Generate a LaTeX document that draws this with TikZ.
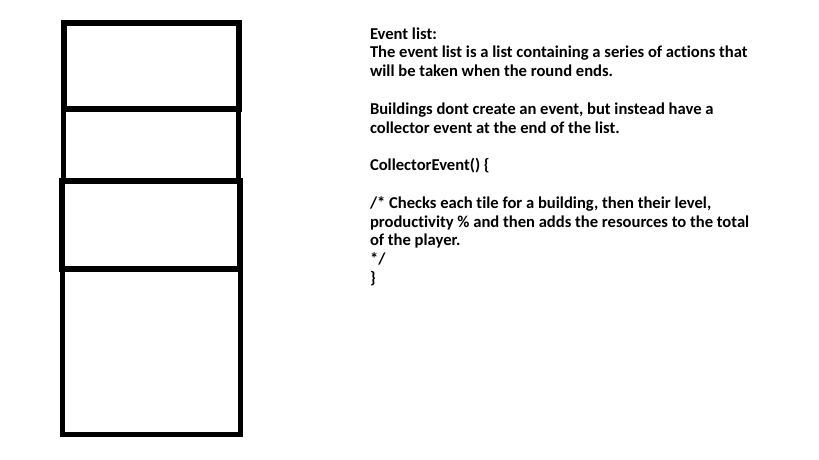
\documentclass[tikz,border=0pt]{standalone}
\usepackage{fontspec}
\setmainfont{Carlito}[Ligatures=CommonOff]
\tikzset{slot/.style={draw=black,line width=5pt}}

\begin{document}
\begin{tikzpicture}[x=1pt,y=-1pt]
	\useasboundingbox[fill=white] (0,0) rectangle (819,460);
	\draw[slot,line width=6pt] (64,23.5) rectangle (239,108.5);
	\draw[slot] (63,108.5) rectangle (238,180.5);
	\draw[slot,line width=6pt] (61.5,180.5) rectangle (239.5,268.5);
	\draw[slot] (62.5,268.5) rectangle (240.5,434.5);
	\node[anchor=base west,inner sep=0,outer sep=0,align=left,font=\fontsize{16.6}{18.8}\selectfont\bfseries] (events) at (370,283.5) {Event list:\\
		The event list is a list containing a series of actions that\\
		will be taken when the round ends.\\
		\strut\\
		Buildings dont create an event, but instead have a\\
		collector event at the end of the list.\\
		\strut\\
		CollectorEvent() \{\\
		\strut\\
		/* Checks each tile for a building, then their level,\\
		productivity \% and then adds the resources to the total\\
		of the player.\\
		*/\\
		\}};
\end{tikzpicture}
\end{document}
